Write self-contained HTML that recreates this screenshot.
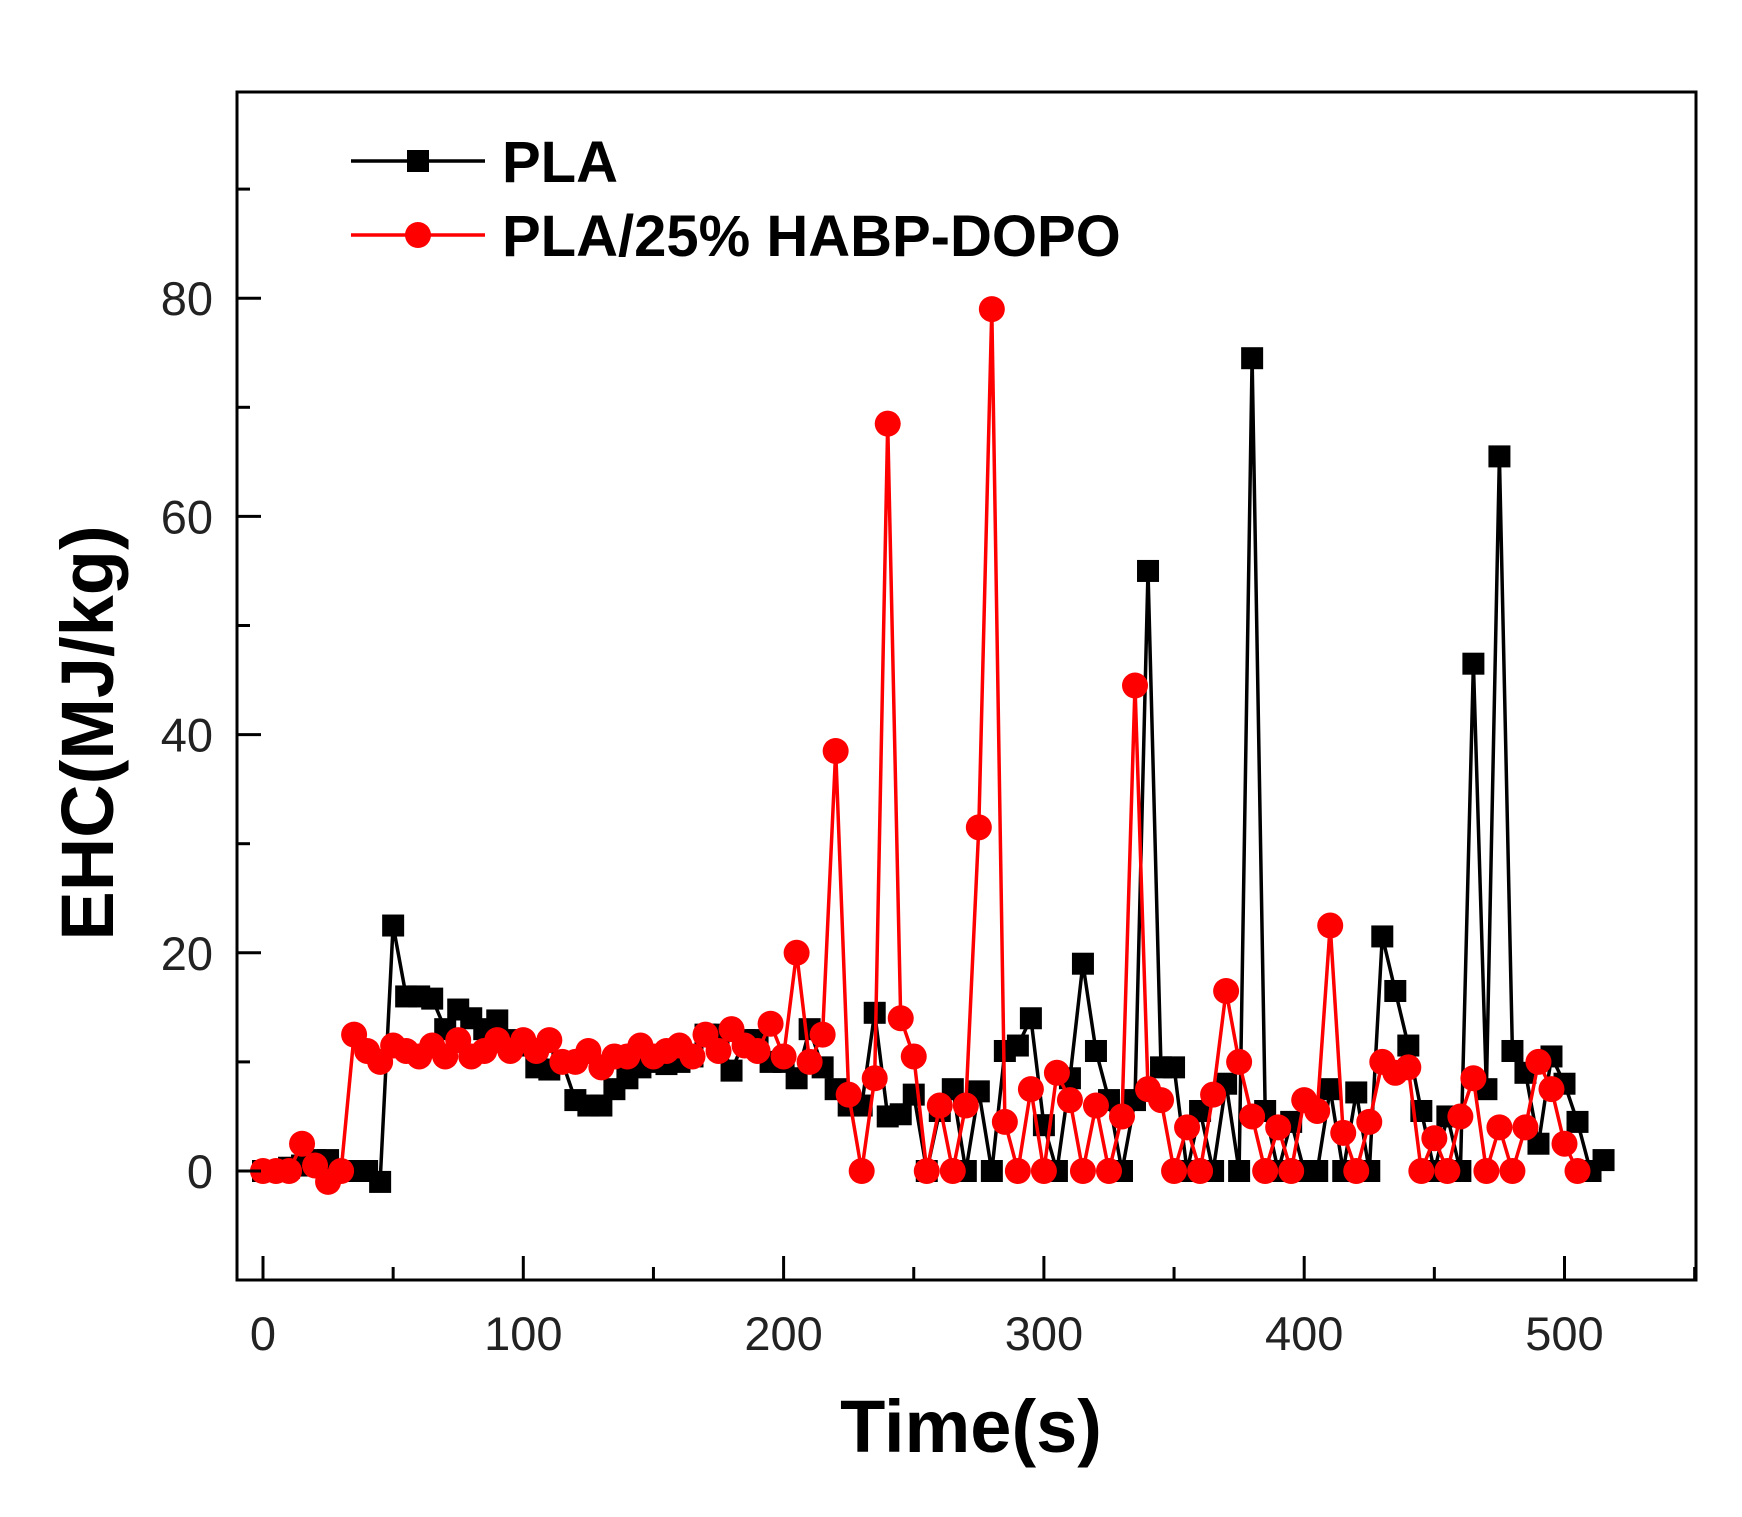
<!DOCTYPE html>
<html><head><meta charset="utf-8"><style>
html,body{margin:0;padding:0;background:#fff;}
svg{display:block;}
</style></head><body>
<svg id="s" width="1742" height="1517" viewBox="0 0 1742 1517" xmlns="http://www.w3.org/2000/svg" font-family="Liberation Sans, Arial, sans-serif">
<rect x="0" y="0" width="1742" height="1517" fill="#fff"/>
<g id="data"></g>
<rect x="237" y="92" width="1459" height="1188" fill="none" stroke="#000" stroke-width="3"/>
<g id="ticks" stroke="#000" stroke-width="3"></g>
<g font-size="47" fill="#222" id="lbl"></g>
<line x1="351" y1="161" x2="485" y2="161" stroke="#000" stroke-width="3.5"/>
<rect x="407" y="150" width="22" height="22" fill="#000"/>
<text x="502" y="182" font-size="58" font-weight="bold">PLA</text>
<line x1="351" y1="235" x2="485" y2="235" stroke="#f00" stroke-width="3.5"/>
<circle cx="418" cy="235" r="13" fill="#f00"/>
<text x="502" y="256" font-size="58" font-weight="bold">PLA/25% HABP-DOPO</text>
<text x="971" y="1452" font-size="74" font-weight="bold" text-anchor="middle">Time(s)</text>
<text transform="translate(113,733) rotate(-90)" font-size="74" font-weight="bold" text-anchor="middle">EHC(MJ/kg)</text>
</svg>
<script>
var X=function(t){return 263+t*2.603;},Y=function(v){return 1171-v*10.91;};
var ns="http://www.w3.org/2000/svg";
var tk=document.getElementById('ticks'),lb=document.getElementById('lbl');
function el(p,n,a,t){var e=document.createElementNS(ns,n);for(var k in a)e.setAttribute(k,a[k]);if(t!=null)e.textContent=t;p.appendChild(e);return e;}
for(var t=0;t<=550;t+=50){var x=X(t),L=(t%100==0)?24:13;el(tk,'line',{x1:x,y1:1280,x2:x,y2:1280-L});
 if(t%100==0&&t<=500)el(lb,'text',{x:x,y:1350,'text-anchor':'middle'},t);}
for(var v=-10;v<=90;v+=10){var y=Y(v),L=(v%20==0)?24:13;if(y<92||y>1280)continue;el(tk,'line',{x1:237,y1:y,x2:237+L,y2:y});
 if(v%20==0&&v>=0&&v<=80)el(lb,'text',{x:213,y:y+17,'text-anchor':'end'},v);}
var pla=[0,0,0.3,0.5,1,1,0,0,0,-1,22.5,16,16,15.8,13,14.8,14,13,13.8,12,11.5,9.5,9.3,10,6.5,6,6,7.5,8.5,9.5,10,9.8,10,10.5,12.5,12.5,9.2,12,12,10,10,8.5,13,9.5,7.5,6,6,14.5,5,5.2,7,0,5.5,7.5,0,7.3,0,11,11.5,14,4.2,0,8.5,19,11,6.5,0,6.5,55,9.5,9.5,0,5.5,0,8,0,74.5,5.5,0,4.5,0,0,7.5,0,7.2,0,21.5,16.5,11.5,5.5,0,5,0,46.5,7.5,65.5,11,9,2.5,10.5,8,4.5,0,1];
var red=[0,0,0,2.5,0.5,-1,0,12.5,11,10,11.5,11,10.5,11.5,10.5,12,10.5,11,12,11,12,11,12,10,10,11,9.5,10.5,10.5,11.5,10.5,11,11.5,10.5,12.5,11,13,11.5,11,13.5,10.5,20,10,12.5,38.5,7,0,8.5,68.5,14,10.5,0,6,0,6,31.5,79,4.5,0,7.5,0,9,6.5,0,6,0,5,44.5,7.5,6.5,0,4,0,7,16.5,10,5,0,4,0,6.5,5.5,22.5,3.5,0,4.5,10,9,9.5,0,3,0,5,8.5,0,4,0,4,10,7.5,2.5,0];
var g=document.getElementById('data');
function series(d,c,sq){var p=d.map(function(v,i){return X(i*5).toFixed(1)+','+Y(v).toFixed(1);}).join(' ');
 el(g,'polyline',{points:p,fill:'none',stroke:c,'stroke-width':3.5,'stroke-linejoin':'round'});
 d.forEach(function(v,i){var x=X(i*5),y=Y(v);if(sq)el(g,'rect',{x:x-11,y:y-11,width:22,height:22,fill:c});else el(g,'circle',{cx:x,cy:y,r:13,fill:c});});}
series(pla,'#000',true);series(red,'#f00',false);
</script>
</body></html>
